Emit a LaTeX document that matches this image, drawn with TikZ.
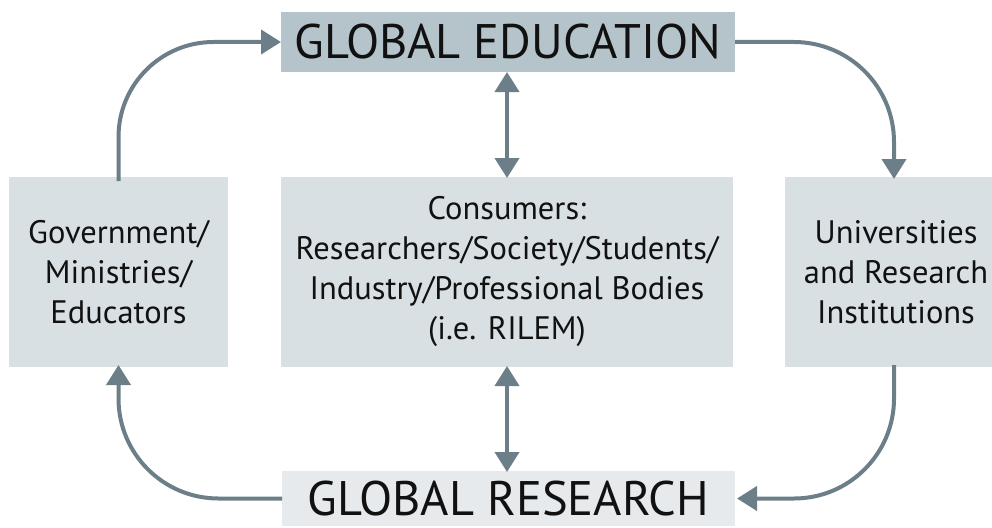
\documentclass[tikz,border=0pt]{standalone}
\usepackage{fontspec}
\setmainfont{PT Sans}
\usetikzlibrary{arrows.meta}
\definecolor{topfill}{HTML}{B5C3CA}
\definecolor{midfill}{HTML}{D9E0E3}
\definecolor{botfill}{HTML}{E6EAEC}
\definecolor{arrowcol}{HTML}{6C7F88}
\definecolor{txt}{HTML}{111111}
\begin{document}
\begin{tikzpicture}[x=1pt,y=-1pt,
  box/.style={rectangle, inner sep=0pt, outer sep=0pt, align=center, text=txt,
    font=\fontsize{32.5}{40}\selectfont},
  titlebox/.style={rectangle, inner sep=0pt, outer sep=0pt, text=txt,
    font=\fontsize{48.5}{54}\selectfont},
  conn/.style={draw=arrowcol, line width=4pt, -{Triangle[length=20pt,width=24pt]}},
  dconn/.style={draw=arrowcol, line width=4pt, {Triangle[length=20pt,width=24pt]}-{Triangle[length=20pt,width=24pt]}}
]
\useasboundingbox (0,0) rectangle (992,527);
\node[titlebox, fill=topfill, minimum width=454pt, minimum height=60pt] (top) at (508,42) {GLOBAL EDUCATION};
\node[titlebox, fill=botfill, minimum width=453pt, minimum height=55pt] (bot) at (508.5,498.5) {GLOBAL RESEARCH};
\node[box, fill=midfill, minimum width=219pt, minimum height=190pt] (left) at (118.5,272) {Government/\\Ministries/\\Educators};
\node[box, fill=midfill, minimum width=452pt, minimum height=190pt] (mid) at (507,272) {Consumers:\\Researchers/Society/Students/\\Industry/Professional Bodies\\(i.e. RILEM)};
\node[box, fill=midfill, minimum width=222pt, minimum height=190pt] (right) at (896,272) {Universities\\and Research\\Institutions};

\coordinate (tls) at ([yshift=-4pt]left.north);
\coordinate (trs) at ([xshift=-2pt,yshift=-2pt]right.north);
\coordinate (brs) at ([xshift=-2pt,yshift=2pt]right.south);
\coordinate (bls) at ([yshift=2pt]left.south);

\draw[conn, rounded corners=95pt] (tls) |- (top.west);
\draw[conn, rounded corners=100pt] (top.east) -| (trs);
\draw[conn, rounded corners=100pt] (brs) |- ([xshift=2pt]bot.east);
\draw[conn, rounded corners=100pt] (bot.west) -| (bls);

\draw[dconn] ([xshift=-1pt]top.south) -- ([yshift=-1pt]mid.north);
\draw[dconn] ([yshift=1pt]mid.south) -- ([xshift=-1.5pt,yshift=-1pt]bot.north);
\end{tikzpicture}
\end{document}
